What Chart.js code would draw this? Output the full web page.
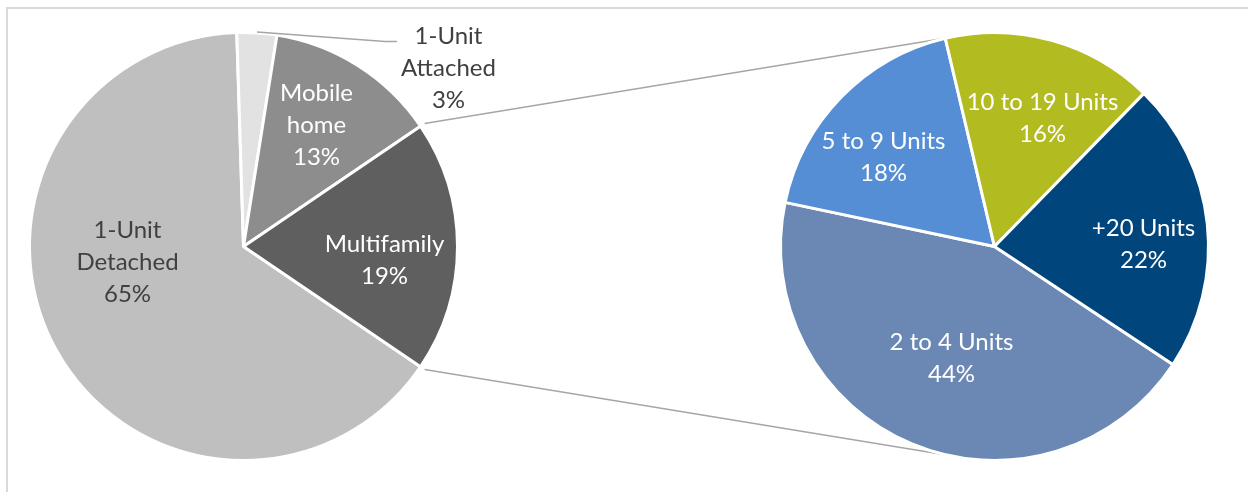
<!DOCTYPE html>
<html>
<head>
<meta charset="utf-8">
<script src="https://cdn.jsdelivr.net/npm/chart.js@4.4.1/dist/chart.umd.min.js"></script>
<style>
    html, body { margin: 0; padding: 0; background: #fff; overflow: hidden; }
    #wrap { position: relative; width: 1248px; height: 492px; }
    #frame {
        position: absolute; left: 6px; top: 7px; width: 1300px; height: 600px;
        border: 2px solid #d9d9d9; box-sizing: border-box;
    }
    canvas { position: absolute; left: 0; top: 0; }
</style>
</head>
<body>
<div id="wrap">
    <div id="frame"></div>
    <canvas id="mainPie" width="1248" height="492"></canvas>
    <canvas id="subPie" width="1248" height="492"></canvas>
</div>
<script>
/* globals Chart:false */

// housing types (main pie) - last one is split out into the second pie
const mainLabels = ["1-Unit Detached", "1-Unit Attached", "Mobile home", "Multifamily"];
const mainValues = [65, 3, 13, 19];
const mainColors = ["#bfbfbf", "#e2e2e2", "#8d8d8d", "#5f5f5f"];

// multifamily breakdown (second pie)
const subLabels = ["2 to 4 Units", "5 to 9 Units", "10 to 19 Units", "+20 Units"];
const subValues = [44, 18, 16, 22];
const subColors = ["#6a88b3", "#558ed5", "#b2bb1f", "#00457b"];

// label text lines, shown as "name / pct"
const mainText = [["1-Unit", "Detached", "65%"], ["1-Unit", "Attached", "3%"], ["Mobile", "home", "13%"], ["Multifamily", "19%"]];
const subText = [["2 to 4 Units", "44%"], ["5 to 9 Units", "18%"], ["10 to 19 Units", "16%"], ["+20 Units", "22%"]];

(() => {
    "use strict";

    const FONT = "24px Lato";
    const LINE_H = 32;
    const DARK = "#404040";

    // where each label block sits, relative to its pie centre
    const mainLabelPos = [[-116, 16], [205, -178], [73, -121], [141, 14]];
    const mainLabelColor = [DARK, DARK, "#fff", "#fff"];
    const subLabelPos = [[-43, 112], [-111, -89], [48, -128], [149, -2]];

    const labelPlugin = {
        id: "sliceLabels",
        afterDatasetsDraw(chart, args, opts) {
            const ctx = chart.ctx;
            const arcs = chart.getDatasetMeta(0).data;
            ctx.save();
            ctx.font = FONT;
            ctx.textAlign = "center";
            ctx.textBaseline = "middle";
            arcs.forEach((arc, i) => {
                const lines = opts.text[i];
                const cx = arc.x + opts.pos[i][0];
                const cy = arc.y + opts.pos[i][1];
                const top = cy - (lines.length - 1) * LINE_H / 2;
                ctx.fillStyle = opts.colors[i];
                lines.forEach((t, k) => ctx.fillText(t, cx, top + k * LINE_H));

                // leader line for the outside label
                if (opts.leader === i) {
                    const mid = (arc.startAngle + arc.endAngle) / 2;
                    const r = arc.outerRadius + 1;
                    const w = Math.max(...lines.map(t => ctx.measureText(t).width));
                    const ex = cx - w / 2 - 4;
                    const ey = top + 5;
                    ctx.strokeStyle = "#a6a6a6";
                    ctx.lineWidth = 1.5;
                    ctx.beginPath();
                    ctx.moveTo(arc.x + r * Math.cos(mid), arc.y + r * Math.sin(mid));
                    ctx.lineTo(ex - 12, ey);
                    ctx.lineTo(ex, ey);
                    ctx.stroke();
                }
            });
            ctx.restore();
        }
    };

    const baseOptions = (pad, rotation, labelOpts) => ({
        responsive: false,
        animation: false,
        events: [],
        rotation: rotation,
        layout: { padding: pad },
        plugins: {
            legend: { display: false },
            tooltip: { enabled: false },
            sliceLabels: labelOpts,
        },
    });

    // split slice is centred on 3 o'clock
    const splitIdx = mainValues.length - 1;
    const mainTotal = mainValues.reduce((a, b) => a + b, 0);
    const mainRotation = 90 + (mainValues[splitIdx] / mainTotal) * 180;

    const mainChart = new Chart(document.getElementById("mainPie"), {
        type: "pie",
        data: {
            labels: mainLabels,
            datasets: [{
                data: mainValues,
                backgroundColor: mainColors,
                borderColor: "#fff",
                borderWidth: 3,
            }],
        },
        options: baseOptions({ left: 28, right: 789, top: 31, bottom: 30 }, mainRotation,
            { text: mainText, pos: mainLabelPos, colors: mainLabelColor, leader: 1 }),
        plugins: [labelPlugin],
    });

    // lines joining the split slice to the second pie
    const connectorPlugin = {
        id: "pieConnectors",
        beforeDatasetsDraw(chart) {
            const src = mainChart.getDatasetMeta(0).data[splitIdx];
            const dst = chart.getDatasetMeta(0).data[0];
            const ctx = chart.ctx;
            const r1 = src.outerRadius + 5;
            const r2 = dst.outerRadius;
            const spread = 13 * Math.PI / 180;
            const ends = [
                [src.startAngle, -Math.PI / 2 - spread],
                [src.endAngle, Math.PI / 2 + spread],
            ];
            ctx.save();
            ctx.strokeStyle = "#a6a6a6";
            ctx.lineWidth = 1.5;
            ends.forEach(([a1, a2]) => {
                ctx.beginPath();
                ctx.moveTo(src.x + r1 * Math.cos(a1), src.y + r1 * Math.sin(a1));
                ctx.lineTo(dst.x + r2 * Math.cos(a2), dst.y + r2 * Math.sin(a2));
                ctx.stroke();
            });
            ctx.restore();
        }
    };

    // eslint-disable-next-line no-unused-vars
    const subChart = new Chart(document.getElementById("subPie"), {
        type: "pie",
        data: {
            labels: subLabels,
            datasets: [{
                data: subValues,
                backgroundColor: subColors,
                borderColor: "#fff",
                borderWidth: 3,
            }],
        },
        options: baseOptions({ left: 779, right: 38, top: 31, bottom: 30 }, 123.5,
            { text: subText, pos: subLabelPos, colors: subLabels.map(() => "#fff"), leader: -1 }),
        plugins: [connectorPlugin, labelPlugin],
    });
})();
</script>
</body>
</html>
